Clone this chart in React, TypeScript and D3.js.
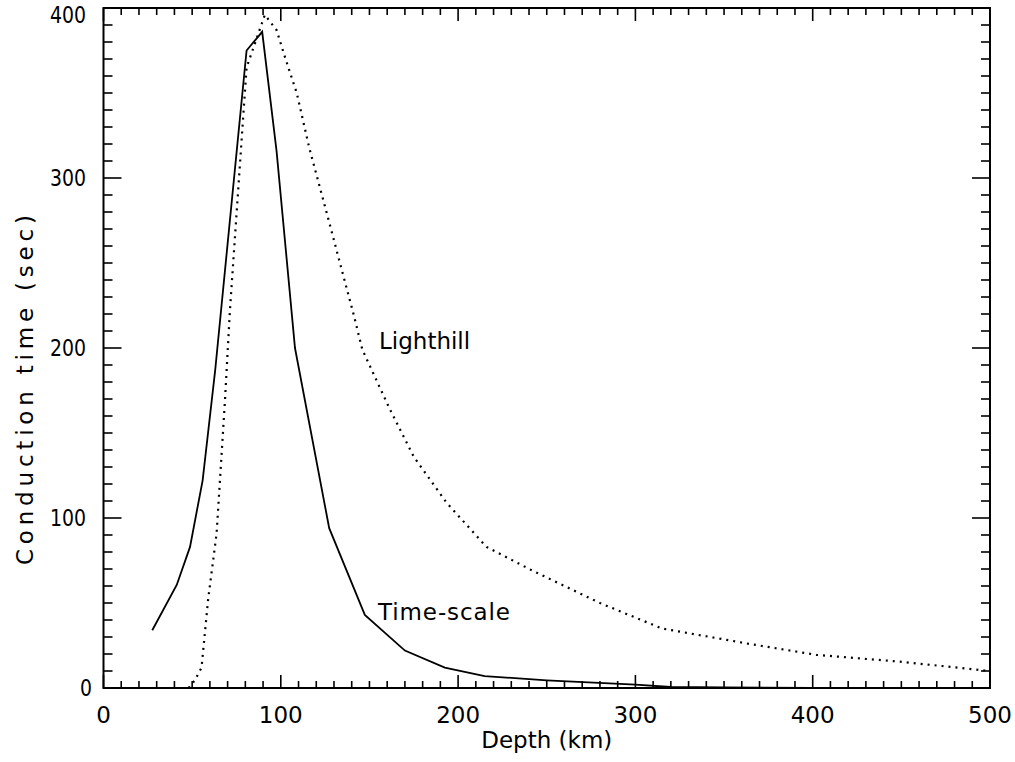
import React from "react";
import * as d3 from "d3";

const timeScaleDepth = [27.5, 41.3, 48.8, 55.9, 63, 80.7, 89.5, 97.6, 108, 127.3, 147.4, 170, 192.5, 215, 250, 300, 320, 350, 400, 450, 500];
const timeScaleValue = [34, 60.6, 83, 122, 187, 375, 386, 316, 200, 94, 43, 22, 12, 7, 4.5, 2, 0.6, 0.3, 0.1, 0, 0];

const lighthillDepth = [48, 51.6, 55.3, 59, 63.8, 68.5, 71.3, 80.7, 91, 97.6, 103, 109, 116, 126, 141, 146, 161.5, 175, 193.5, 216, 242, 280, 315, 364, 402, 449, 500];
const lighthillValue = [0, 4.7, 12, 52, 91, 169, 222, 365, 396, 387, 369, 350, 318, 279, 220, 199, 164, 136, 109, 83, 69, 50, 35, 26, 19.5, 15.5, 10];

const xMajorTicks = [0, 100, 200, 300, 400, 500];
const yMajorTicks = [0, 100, 200, 300, 400];

const FONT = "DejaVu Sans";

export default function App() {
  const left = 103.5, right = 990, top = 8, bottom = 688;
  const x = d3.scaleLinear().domain([0, 500]).range([left, right]);
  const y = d3.scaleLinear().domain([0, 400]).range([bottom, top]);

  const line = d3.line<[number, number]>().x(d => x(d[0])).y(d => y(d[1]));
  const solidPts: [number, number][] = timeScaleDepth.map((d, i) => [d, timeScaleValue[i]]);
  const dotPts: [number, number][] = lighthillDepth.map((d, i) => [d, lighthillValue[i]]);

  const xMinor = d3.range(0, 501, 10);
  const yMinor = d3.range(0, 401, 10);

  return (
    <svg width={1015} height={762} style={{ position: "absolute", left: 0, top: 0, background: "#fff" }}>
      <rect x={0} y={0} width={1015} height={762} fill="#fff" />
      {/* data */}
      <path d={line(solidPts) || ""} fill="none" stroke="#000" strokeWidth={1.8} strokeLinejoin="miter" />
      <path d={line(dotPts) || ""} fill="none" stroke="#000" strokeWidth={2.2} strokeDasharray="2 5" />

      {/* frame */}
      <rect x={left} y={top} width={right - left} height={bottom - top} fill="none" stroke="#000" strokeWidth={2} />

      {/* x ticks bottom & top */}
      {xMinor.map(v => {
        const major = v % 100 === 0;
        const len = major ? 13 : 7;
        return (
          <g key={"xt" + v}>
            <line x1={x(v)} x2={x(v)} y1={bottom} y2={bottom - len} stroke="#000" strokeWidth={1.6} />
            <line x1={x(v)} x2={x(v)} y1={top} y2={top + len} stroke="#000" strokeWidth={1.6} />
          </g>
        );
      })}
      {/* y ticks left & right */}
      {yMinor.map(v => {
        const major = v % 100 === 0;
        const len = major ? 18 : 9;
        return (
          <g key={"yt" + v}>
            <line x1={left} x2={left + len} y1={y(v)} y2={y(v)} stroke="#000" strokeWidth={1.6} />
            <line x1={right} x2={right - len} y1={y(v)} y2={y(v)} stroke="#000" strokeWidth={1.6} />
          </g>
        );
      })}

      {/* x tick labels */}
      {xMajorTicks.map(v => (
        <text key={"xl" + v} x={x(v)} y={723} textAnchor="middle" fontFamily={FONT} fontSize={23} fill="#000">
          {v}
        </text>
      ))}
      {/* y tick labels */}
      {yMajorTicks.map(v => {
        const s = String(v);
        const w = s.length === 1 ? 12 : 36;
        const xr = v === 0 ? 92 : 86;
        return (
          <text
            key={"yl" + v}
            x={xr - w}
            y={Math.max(y(v) + 8, 23)}
            fontFamily={FONT}
            fontSize={23}
            textLength={w}
            lengthAdjust="spacingAndGlyphs"
            fill="#000"
          >
            {s}
          </text>
        );
      })}

      {/* axis titles */}
      <text x={x(250)} y={748} textAnchor="middle" fontFamily={FONT} fontSize={23} fill="#000">
        Depth (km)
      </text>
      <text
        transform={`translate(33,${565}) rotate(-90)`}
        fontFamily={FONT}
        fontSize={23}
        textLength={350}
        lengthAdjust="spacing"
        fill="#000"
      >
        Conduction time (sec)
      </text>

      {/* curve labels */}
      <text x={379} y={349} fontFamily={FONT} fontSize={23} fill="#000">Lighthill</text>
      <text x={378} y={620} fontFamily={FONT} fontSize={23} textLength={132} lengthAdjust="spacing" fill="#000">Time-scale</text>
    </svg>
  );
}
